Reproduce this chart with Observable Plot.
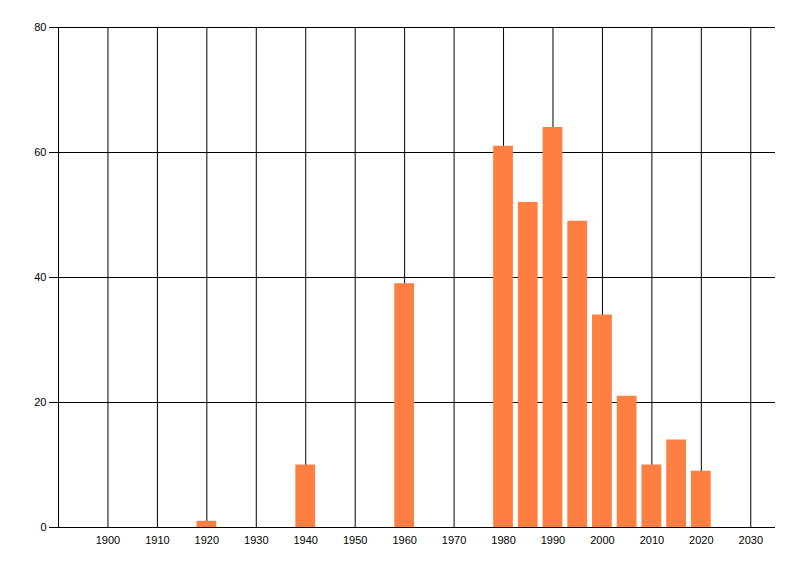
<!DOCTYPE html>
<html>
<head>
<meta charset="utf-8">
<script src="https://cdn.jsdelivr.net/npm/d3@7"></script>
<script src="https://cdn.jsdelivr.net/npm/@observablehq/plot@0.6"></script>
<style>
  html, body { margin: 0; padding: 0; background: #fff; }
</style>
</head>
<body>
<div id="chart"></div>
<script>
const years = [1920, 1940, 1960, 1980, 1985, 1990, 1995, 2000, 2005, 2010, 2015, 2020];
const counts = [1, 10, 39, 61, 52, 64, 49, 34, 21, 10, 14, 9];
const xTicks = [1900, 1910, 1920, 1930, 1940, 1950, 1960, 1970, 1980, 1990, 2000, 2010, 2020, 2030];
const yTicks = [0, 20, 40, 60, 80];
const barHalfWidth = 2;

const data = years.map((y, i) => ({year: y, count: counts[i]}));

const chart = Plot.plot({
  width: 800,
  height: 576,
  marginLeft: 58,
  marginRight: 25,
  marginTop: 27,
  marginBottom: 49,
  style: {fontFamily: "'Liberation Sans', Arial, sans-serif", fontSize: "11px", color: "#000", background: "#fff"},
  x: {domain: [1890, 2035]},
  y: {domain: [0, 80]},
  marks: [
    Plot.ruleX(xTicks, {y1: 0, y2: 80, stroke: "#000", strokeWidth: 1}),
    Plot.ruleY(yTicks.filter(d => d > 0), {x1: 1890, x2: 2035, stroke: "#000", strokeWidth: 1}),
    Plot.ruleX([1890], {y1: 0, y2: 80, stroke: "#000", strokeWidth: 1}),
    Plot.rectY(data, {x1: d => d.year - barHalfWidth, x2: d => d.year + barHalfWidth, y: "count", fill: "#ff7f42"}),
    Plot.ruleY([0], {x1: 1890, x2: 2035, stroke: "#000", strokeWidth: 1}),
    Plot.axisX(xTicks, {tickSize: 0, tickPadding: 9, label: null, tickFormat: d => String(d), fill: "#000"}),
    Plot.axisY(yTicks, {tickSize: 9, tickPadding: 3, label: null, stroke: "#000", fill: "#000"})
  ]
});
document.getElementById("chart").appendChild(chart);
</script>
</body>
</html>
